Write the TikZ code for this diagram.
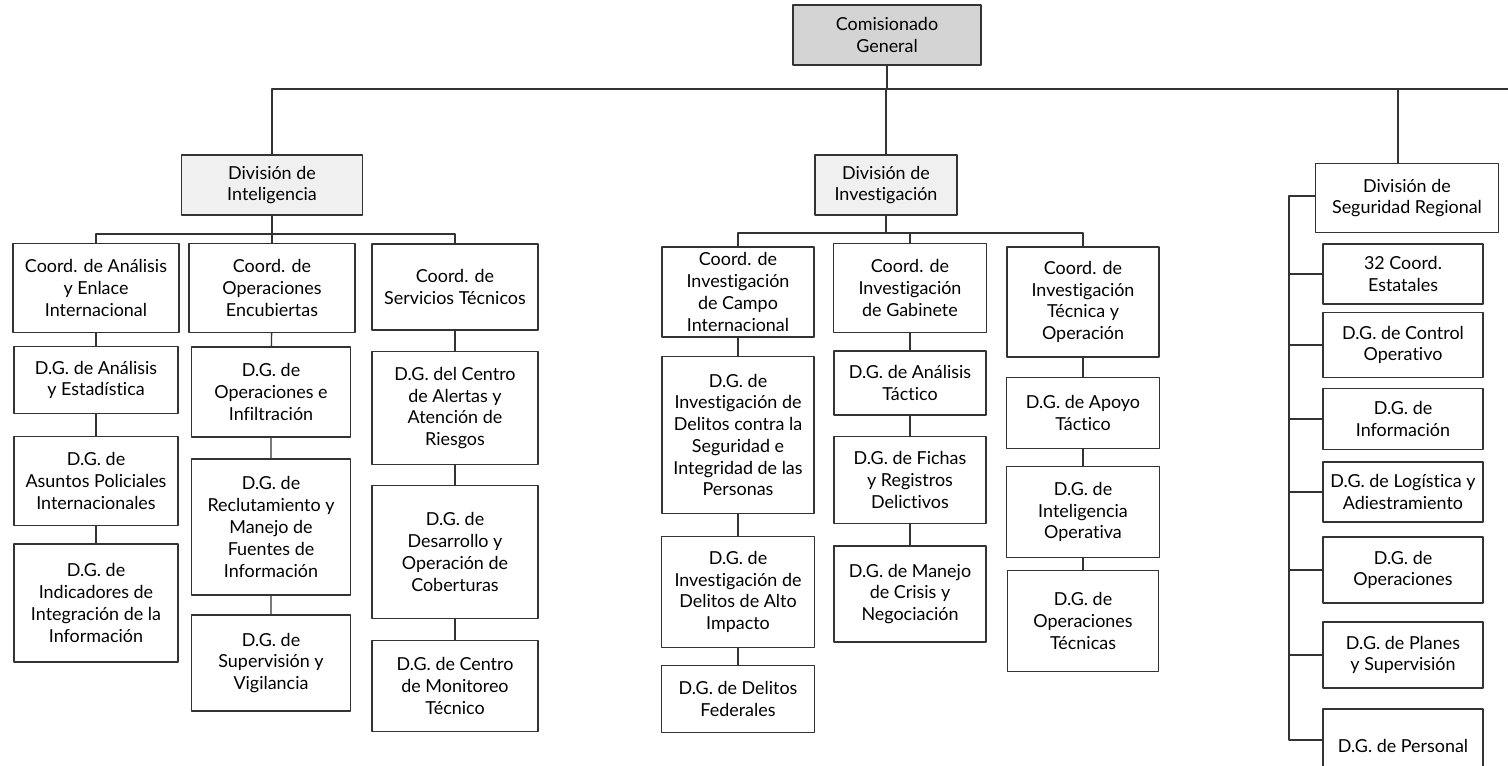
\documentclass[tikz,border=0pt]{standalone}
\usepackage{fontspec}
\setmainfont{Lato}[Ligatures=NoCommon]
\usetikzlibrary{calc}

\begin{document}
\begin{tikzpicture}[x=0.02cm, y=-0.02cm, line join=round,
  box/.style={draw=black!80, line width=0.8pt, fill=white, align=center,
    inner sep=1pt, font=\fontsize{10.2}{12.4}\selectfont},
  sz/.style 2 args={minimum width=#1*0.02cm, minimum height=#2*0.02cm},
  head/.style={box, fill=black!6},
  link/.style={draw=black!80, line width=0.8pt}]
  \useasboundingbox (0,0) rectangle (1508,766);

  \node[head, sz={188}{60}, fill=black!17] (gen) at (887,35) {Comisionado\\General};
  \node[head, sz={181}{60}] (intel) at (272,185) {División de\\Inteligencia};
  \node[head, sz={142}{60}] (inv) at (886,185) {División de\\Investigación};
  \node[box, sz={183}{69}] (seg) at (1407,198) {División de\\Seguridad Regional};

  \node[box, sz={166}{89}] (ca1) at (96,288) {Coord. de Análisis\\y Enlace\\Internacional};
  \node[box, sz={166}{89}] (ca2) at (272,288) {Coord. de\\Operaciones\\Encubiertas};
  \node[box, sz={166}{86}] (ca3) at (455,287) {Coord. de\\Servicios Técnicos};
  \node[box, sz={164}{67}] (da1) at (96,380) {D.G. de Análisis\\y Estadística};
  \node[box, sz={164}{89}] (da2) at (96,481) {D.G. de\\Asuntos Policiales\\Internacionales};
  \node[box, sz={164}{118}] (da3) at (96,603) {D.G. de\\Indicadores de\\Integración de la\\Información};
  \node[box, sz={159}{90}] (db1) at (271,392) {D.G. de\\Operaciones e\\Infiltración};
  \node[box, sz={159}{136}] (db2) at (271,527) {D.G. de\\Reclutamiento y\\Manejo de\\Fuentes de\\Información};
  \node[box, sz={159}{96}] (db3) at (271,663) {D.G. de\\Supervisión y\\Vigilancia};
  \node[box, sz={166}{113}] (dc1) at (455,408) {D.G. del Centro\\de Alertas y\\Atención de\\Riesgos};
  \node[box, sz={166}{133}] (dc2) at (455,552) {D.G. de\\Desarrollo y\\Operación de\\Coberturas};
  \node[box, sz={166}{91}] (dc3) at (455,686) {D.G. de Centro\\de Monitoreo\\Técnico};

  \node[box, sz={152}{90}] (cb1) at (738,292) {Coord. de\\Investigación\\de Campo\\Internacional};
  \node[box, sz={153}{89}] (cb2) at (910,288) {Coord. de\\Investigación\\de Gabinete};
  \node[box, sz={152}{110}] (cb3) at (1083,302) {Coord. de\\Investigación\\Técnica y\\Operación};
  \node[box, sz={152}{157}] (ea1) at (738,435) {D.G. de\\Investigación de\\Delitos contra la\\Seguridad e\\Integridad de las\\Personas};
  \node[box, sz={153}{111}] (ea2) at (738,592) {D.G. de\\Investigación de\\Delitos de Alto\\Impacto};
  \node[box, sz={153}{67}] (ea3) at (738,699) {D.G. de Delitos\\Federales};
  \node[box, sz={152}{64}] (eb1) at (910,383) {D.G. de Análisis\\Táctico};
  \node[box, sz={152}{87}] (eb2) at (910,480) {D.G. de Fichas\\y Registros\\Delictivos};
  \node[box, sz={152}{96}] (eb3) at (910,594) {D.G. de Manejo\\de Crisis y\\Negociación};
  \node[box, sz={153}{71}] (ec1) at (1083,413) {D.G. de Apoyo\\Táctico};
  \node[box, sz={153}{91}] (ec2) at (1083,512) {D.G. de\\Inteligencia\\Operativa};
  \node[box, sz={151}{101}] (ec3) at (1083,621) {D.G. de\\Operaciones\\Técnicas};

  \node[box, sz={160}{60}] (f1) at (1403,274) {32 Coord.\\Estatales};
  \node[box, sz={160}{65}] (f2) at (1403,345) {D.G. de Control\\Operativo};
  \node[box, sz={160}{61}] (f3) at (1403,419) {D.G. de\\Información};
  \node[box, sz={160}{60}] (f4) at (1403,492) {D.G. de Logística y\\Adiestramiento};
  \node[box, sz={160}{66}] (f5) at (1403,570) {D.G. de\\Operaciones};
  \node[box, sz={160}{66}] (f6) at (1403,655) {D.G. de Planes\\y Supervisión};
  \node[box, sz={160}{74}] (f7) at (1403,746) {D.G. de Personal};

  \coordinate (tl) at (272,89);
  \coordinate (tr) at (1530,89);
  \coordinate (sr) at (1398,89);
  \coordinate (ib) at (272,234);
  \coordinate (vb) at (886,233);
  \coordinate (sp) at (1289,196);

  \draw[link] (gen) -- (gen |- tl);
  \draw[link] (intel) -- (tl) -- (tr);
  \draw[link] (inv) -- (inv |- tl);
  \draw[link] (sr) -- (sr |- seg.north);

  \draw[link] (ca1) |- (ib) -| (ca3);
  \draw[link] (intel) -- (ca2);
  \draw[link] (ca1) -- (da1) -- (da2) -- (da3);
  \draw[link] (ca2) -- (db1) -- (db2) -- (db3);
  \draw[link] (ca3) -- (dc1) -- (dc2) -- (dc3);

  \draw[link] (cb1) |- (vb) -| (cb3);
  \draw[link] (inv) -- (vb);
  \draw[link] (vb -| cb2) -- (cb2);
  \draw[link] (cb1) -- (ea1) -- (ea2) -- (ea3);
  \draw[link] (cb2) -- (eb1) -- (eb2) -- (eb3);
  \draw[link] (cb3) -- (ec1) -- (ec2) -- (ec3);

  \draw[link] (seg.west |- sp) -- (sp) -- (sp |- 1289,740) -- (f7.west |- 1289,740);
  \foreach \f in {f1,f2,f3,f4,f5,f6}
    \draw[link] (\f.west) -- (sp |- \f.west);
\end{tikzpicture}
\end{document}
